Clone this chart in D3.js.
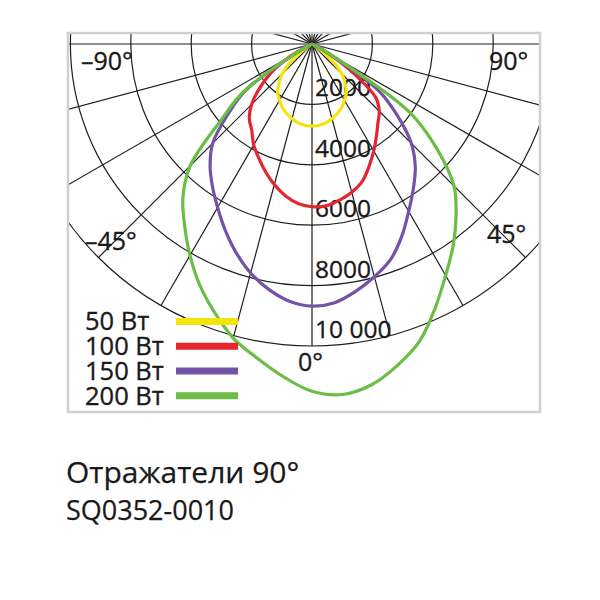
<!DOCTYPE html>
<html>
<head>
<meta charset="utf-8">
<script src="https://cdn.jsdelivr.net/npm/d3@7"></script>
<style>
  html, body { margin: 0; padding: 0; background: #fff; }
  svg { display: block; }
</style>
</head>
<body>
<script>
// ---------------- data ----------------
const angles = [-90,-85,-80,-75,-70,-65,-60,-55,-50,-45,-40,-35,-30,-25,-20,-15,-10,-5,0,
                5,10,15,20,25,30,35,40,45,50,55,60,65,70,75,80,85,90];

const series50 = [0,0,0,0,0,0,0,250,880,1400,1700,1980,2150,2320,2450,2560,2650,2700,2720,
                  2700,2650,2560,2450,2320,2150,1980,1700,1400,880,250,0,0,0,0,0,0,0];

const series100 = [0,0,0,0,0,200,900,1650,2250,2830,3230,3480,3860,4170,4500,4820,5100,5300,5390,
                   5380,5250,5080,4850,4470,4090,3720,3400,3150,2750,1650,700,200,0,0,0,0,0];

const series150 = [0,0,0,0,0,100,700,2700,3650,4650,5250,5750,6250,6800,7350,7850,8250,8550,8680,
                   8600,8320,7980,7600,7030,6400,5850,5320,4650,3700,2700,700,100,0,0,0,0,0];

const series200 = [0,0,0,0,0,100,800,2800,3950,5700,6650,7350,8080,8800,9450,10080,10550,11050,11500,
                   11650,11450,11000,10450,9650,8850,8150,7420,6650,5400,3950,800,100,0,0,0,0,0];

const seriesNames  = ["50 Вт", "100 Вт", "150 Вт", "200 Вт"];
const seriesColors = ["#f5e40c", "#e5262f", "#7352a8", "#6bbd45"];

const radialTicks  = [2000, 4000, 6000, 8000, 10000];
const tickLabels   = ["2000", "4000", "6000", "8000", "10 000"];
const gridAngles   = [0,15,30,45,60,75,90,105,120,135,150,165,180,195,210,225,240,255,270,285,300,315,330,345];
const angleLabels  = ["–90°", "90°", "–45°", "45°", "0°"];
const titleText    = "Отражатели 90°";
const codeText     = "SQ0352-0010";

// ---------------- layout ----------------
const W = 600, H = 600;
const cx = 312, cy = 44;
const box = {x: 68, y: 33, w: 472, h: 379};
const FONT = "'Open Sans', 'Noto Sans', sans-serif";
const INK = "#1a1a1a";

const svg = d3.select("body").append("svg").attr("width", W).attr("height", H);
svg.append("rect").attr("width", W).attr("height", H).attr("fill", "#fff");

const r = d3.scaleLinear().domain([0, 10000]).range([0, 302]);
// chart angle (0 = down, + = right) -> d3 radial angle (0 = up, clockwise)
const toRad = d => Math.PI - d * Math.PI / 180;

svg.append("clipPath").attr("id", "boxclip")
  .append("rect").attr("x", box.x).attr("y", box.y).attr("width", box.w).attr("height", box.h);

const plot = svg.append("g").attr("clip-path", "url(#boxclip)");
const g = plot.append("g").attr("transform", `translate(${cx},${cy})`);

function styleText(sel, size) {
  return sel.attr("font-family", FONT).attr("font-size", size)
    .attr("fill", INK).attr("stroke", INK).attr("stroke-width", 0.35);
}

// grid circles
g.selectAll("circle.grid").data(radialTicks).join("circle")
  .attr("class", "grid")
  .attr("r", d => r(d))
  .attr("fill", "none").attr("stroke", "#1e1e1e").attr("stroke-width", 1.2);

// radial lines
g.selectAll("line.spoke").data(gridAngles).join("line")
  .attr("class", "spoke")
  .attr("x1", 0).attr("y1", 0)
  .attr("x2", d => r(10000) * Math.sin(toRad(d)))
  .attr("y2", d => -r(10000) * Math.cos(toRad(d)))
  .attr("stroke", "#1e1e1e").attr("stroke-width", 1.2);

// value labels
styleText(g.selectAll("text.tick").data(radialTicks).join("text")
  .attr("class", "tick")
  .attr("x", 3)
  .attr("y", d => r(d) - 8), 24.5)
  .text((d, i) => tickLabels[i]);

// angle labels
const angleLabelPos = [[81, 70], [489, 70], [85, 250], [487, 243], [298, 371]];
styleText(svg.selectAll("text.ang").data(angleLabels).join("text")
  .attr("class", "ang")
  .attr("x", (d, i) => angleLabelPos[i][0])
  .attr("y", (d, i) => angleLabelPos[i][1]), 25)
  .text(d => d);

// curves
const allSeries = [series50, series100, series150, series200];
const line = d3.lineRadial()
  .angle(d => toRad(d[0]))
  .radius(d => r(d[1]))
  .curve(d3.curveCatmullRom.alpha(0.5));

allSeries.forEach((vals, i) => {
  let first = vals.findIndex(v => v > 0) - 1;
  let last = vals.length - 1 - [...vals].reverse().findIndex(v => v > 0) + 1;
  const pts = [];
  for (let k = Math.max(0, first); k <= Math.min(vals.length - 1, last); k++) pts.push([angles[k], vals[k]]);
  g.append("path")
    .attr("d", line(pts))
    .attr("fill", "none")
    .attr("stroke", seriesColors[i])
    .attr("stroke-width", 3.2)
    .attr("stroke-linejoin", "round");
});

// box border
svg.append("rect")
  .attr("x", box.x).attr("y", box.y).attr("width", box.w).attr("height", box.h)
  .attr("fill", "none").attr("stroke", "#cfcfcf").attr("stroke-width", 2.5);

// legend
const legend = svg.append("g");
const legY = d3.scaleBand().domain(seriesNames).range([309, 408]);
seriesNames.forEach((name, i) => {
  const y = legY(name) + legY.bandwidth() / 2;
  styleText(legend.append("text")
    .attr("x", 85).attr("y", y + 9), 25.5)
    .text(name);
  legend.append("line")
    .attr("x1", 176).attr("x2", 238).attr("y1", y).attr("y2", y)
    .attr("stroke", seriesColors[i]).attr("stroke-width", 7);
});

// titles
styleText(svg.append("text").attr("x", 66).attr("y", 483), 30)
  .attr("stroke-width", 0.25)
  .text(titleText);
styleText(svg.append("text").attr("x", 66).attr("y", 520), 27)
  .attr("stroke-width", 0.25)
  .text(codeText);
</script>
</body>
</html>
